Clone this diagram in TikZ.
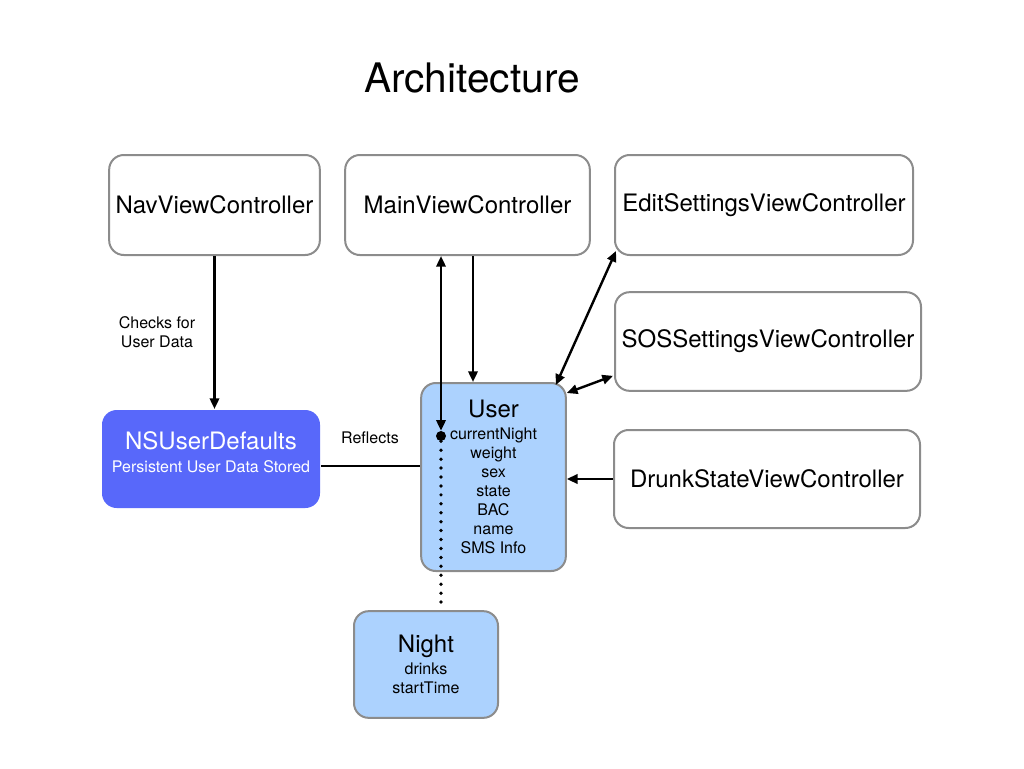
\documentclass[tikz,border=0pt]{standalone}
\usepackage{fontspec}
\setmainfont{TeX Gyre Heros}
\usepackage{tikz}
\usetikzlibrary{arrows.meta,calc}

\definecolor{boxgray}{RGB}{140,140,140}
\definecolor{defblue}{RGB}{88,104,250}
\definecolor{modelblue}{RGB}{172,210,254}

\newcommand{\bigtxt}[1]{{\fontsize{18}{21}\selectfont #1}}
\newcommand{\smalltxt}{\fontsize{12}{14.25}\selectfont}

\begin{document}
\begin{tikzpicture}[x=0.75pt,y=-0.75pt]
\tikzstyle{ctrl} = [draw=boxgray, line width=1.5pt, rounded corners=11pt, fill=white, align=center, font=\fontsize{18}{21}\selectfont]
\tikzstyle{model} = [ctrl, fill=modelblue, font=\smalltxt]
\tikzstyle{conn} = [line width=1.8pt, black]
\tikzstyle{tip} = [-{Triangle[length=8pt,width=7pt]}]
\tikzstyle{twotip} = [{Triangle[length=8pt,width=7pt]}-{Triangle[length=8pt,width=7pt]}]
\useasboundingbox (0,0) rectangle (1024,768);

\node(title) at (472,78) {\fontsize{30.5}{36}\selectfont Architecture};

\node[ctrl, minimum width=158pt, minimum height=75pt] (nav) at (214.5,205) {NavViewController};
\node[ctrl, minimum width=183.5pt, minimum height=75pt] (main) at (467.5,205) {MainViewController};
\node[ctrl, minimum width=223.5pt, minimum height=75pt] (edit) at (764,205) {EditSettingsViewController};
\node[ctrl, minimum width=229.5pt, minimum height=74pt] (sos) at (768,341.5) {SOSSettingsViewController};
\node[ctrl, minimum width=229.5pt, minimum height=73.5pt] (drunk) at (767,479) {DrunkStateViewController};

\node[model, draw=none, fill=defblue, text=white, minimum width=163.5pt, minimum height=73.5pt] (defaults) at (211,459)
  {\bigtxt{NSUserDefaults}\\[3pt] Persistent User Data Stored\\[-4pt]\mbox{}};
\node[model, minimum width=108.5pt, minimum height=141pt] (user) at (493.5,477)
  {\bigtxt{User}\\[2pt] currentNight\\ weight\\ sex\\ state\\ BAC\\ name\\ SMS Info};
\node[model, minimum width=108pt, minimum height=80pt] (night) at (426,664.5)
  {\bigtxt{Night}\\[2pt] drinks\\ startTime};

% pointer from User to Night
\node[circle, fill=black, inner sep=0pt, minimum size=7.5pt] (cn) at (441,436) {};

\node[align=center, font=\smalltxt](checks) at (157,332) {Checks for\\User Data};
\node[font=\smalltxt](reflects) at (370,438) {Reflects};

\draw[conn, tip] (nav.south) -- (nav.south |- defaults.north);
\draw[conn] ($(defaults.east)+(0,7)$) -- ($(user.west)+(0,-11)$);
\draw[conn, twotip] (main.south -| cn) -- (cn.north);
\draw[conn, tip] ($(main.south)+(5.5,0)$) -- ($(user.north)+(-20.5,0)$);
\draw[conn, twotip] ($(edit.south west)+(2,-5)$) -- ($(user.north east)+(-11,3)$);
\draw[conn, twotip] ($(sos.south west)+(-1,-16)$) -- ($(user.north east)+(0,11)$);
\draw[conn, tip] (drunk.west) -- (drunk.west -| user.east);
\draw[conn, line width=2.8pt, line cap=round, dash pattern=on 0pt off 6.7pt] (cn.south) -- (cn |- night.north);

\end{tikzpicture}
\end{document}
